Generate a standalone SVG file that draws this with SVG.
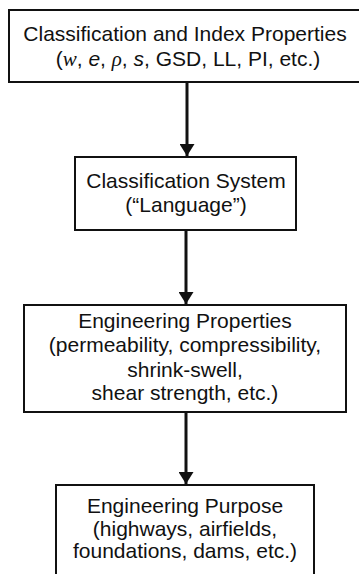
<svg xmlns="http://www.w3.org/2000/svg" width="359" height="574" viewBox="0 0 359 574">
<style>
.box{fill:none;stroke:#111;stroke-width:2}
.t{font-family:"Liberation Sans",Arial,sans-serif;font-size:21px;fill:#111;text-anchor:middle}
.m{font-family:"Liberation Serif","Times New Roman",serif;font-style:italic}
.i{font-style:italic}
.c{stroke:#111;stroke-width:3;fill:none}
</style>
<defs>
<marker id="ah" markerWidth="4" markerHeight="5" refX="4" refY="2.5" orient="auto" markerUnits="strokeWidth">
<path d="M0,0 L4,2.5 L0,5 z" fill="#111"/>
</marker>
</defs>
<rect width="359" height="574" fill="#fff"/>
<g id="connectors">
<line class="c" x1="187" y1="82" x2="187" y2="156" marker-end="url(#ah)"/>
<line class="c" x1="186" y1="230" x2="186" y2="304" marker-end="url(#ah)"/>
<line class="c" x1="186" y1="412" x2="186" y2="484" marker-end="url(#ah)"/>
</g>
<g id="node1">
<rect class="box" x="9" y="10" width="352" height="72"/>
<text class="t" x="185" y="41">Classification and Index Properties</text>
<text class="t" x="188" y="66">(<tspan class="m">w</tspan>, <tspan class="i">e</tspan>, <tspan class="m">ρ</tspan>, <tspan class="i">s</tspan>, GSD, LL, PI, etc.)</text>
</g>
<g id="node2">
<rect class="box" x="75" y="157" width="221" height="73"/>
<text class="t" x="186" y="188">Classification System</text>
<text class="t" x="186" y="212">(“Language”)</text>
</g>
<g id="node3">
<rect class="box" x="24" y="305" width="322" height="107"/>
<text class="t" x="185" y="328">Engineering Properties</text>
<text class="t" x="185" y="352">(permeability, compressibility,</text>
<text class="t" x="185" y="377">shrink-swell,</text>
<text class="t" x="185" y="400">shear strength, etc.)</text>
</g>
<g id="node4">
<rect class="box" x="56" y="485" width="258" height="100"/>
<text class="t" x="185" y="513">Engineering Purpose</text>
<text class="t" x="185" y="536">(highways, airfields,</text>
<text class="t" x="185" y="558">foundations, dams, etc.)</text>
</g>
</svg>
